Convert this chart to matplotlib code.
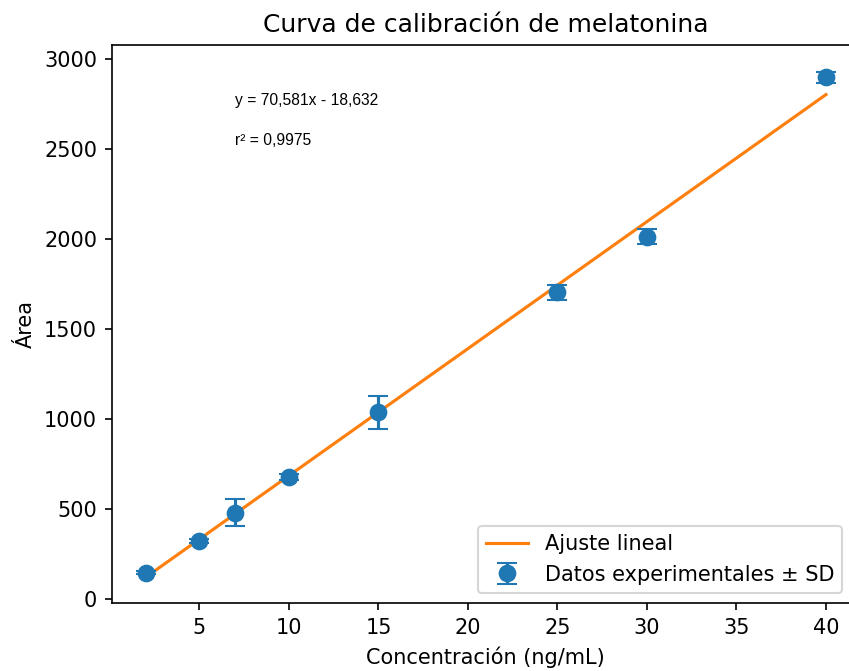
import numpy as np
import matplotlib
matplotlib.use("Agg")
import matplotlib.pyplot as plt

# datos de calibración
conc = [2, 5, 7, 10, 15, 25, 30, 40]
area = [148, 324, 481, 680, 1039, 1706, 2015, 2900]
sd = [8, 12, 74, 15, 93, 42, 41, 32]
slope = 70.581
intercept = -18.632
eq_text = "y = 70,581x - 18,632"
r2_text = "r² = 0,9975"

plt.rcParams.update({"font.size": 10})

fig = plt.figure(figsize=(849 / 150, 671 / 150), dpi=150)
ax = fig.add_axes([111.7 / 849, 1 - 603.3 / 671, (860 - 111.7) / 849, (603.3 - 45) / 671])

xfit = np.array([min(conc), max(conc)])
ax.plot(xfit, slope * xfit + intercept, color="tab:orange", label="Ajuste lineal")
ax.errorbar(conc, area, yerr=sd, fmt="o", color="tab:blue", markersize=7.5,
            capsize=5, label="Datos experimentales ± SD")

ax.text(7, 2770, eq_text, fontsize=7.5, family="Liberation Sans", va="center")
ax.text(7, 2550, r2_text, fontsize=7.5, family="Liberation Sans", va="center")

ax.set_xlim(0.1, 41.9)
ax.set_ylim(-22, 3080)
ax.set_title("Curva de calibración de melatonina")
ax.set_xlabel("Concentración (ng/mL)")
ax.set_ylabel("Área")
ax.legend(loc="lower right", bbox_to_anchor=(0.9905, 0.0))

fig.savefig("out.png", dpi=150)
